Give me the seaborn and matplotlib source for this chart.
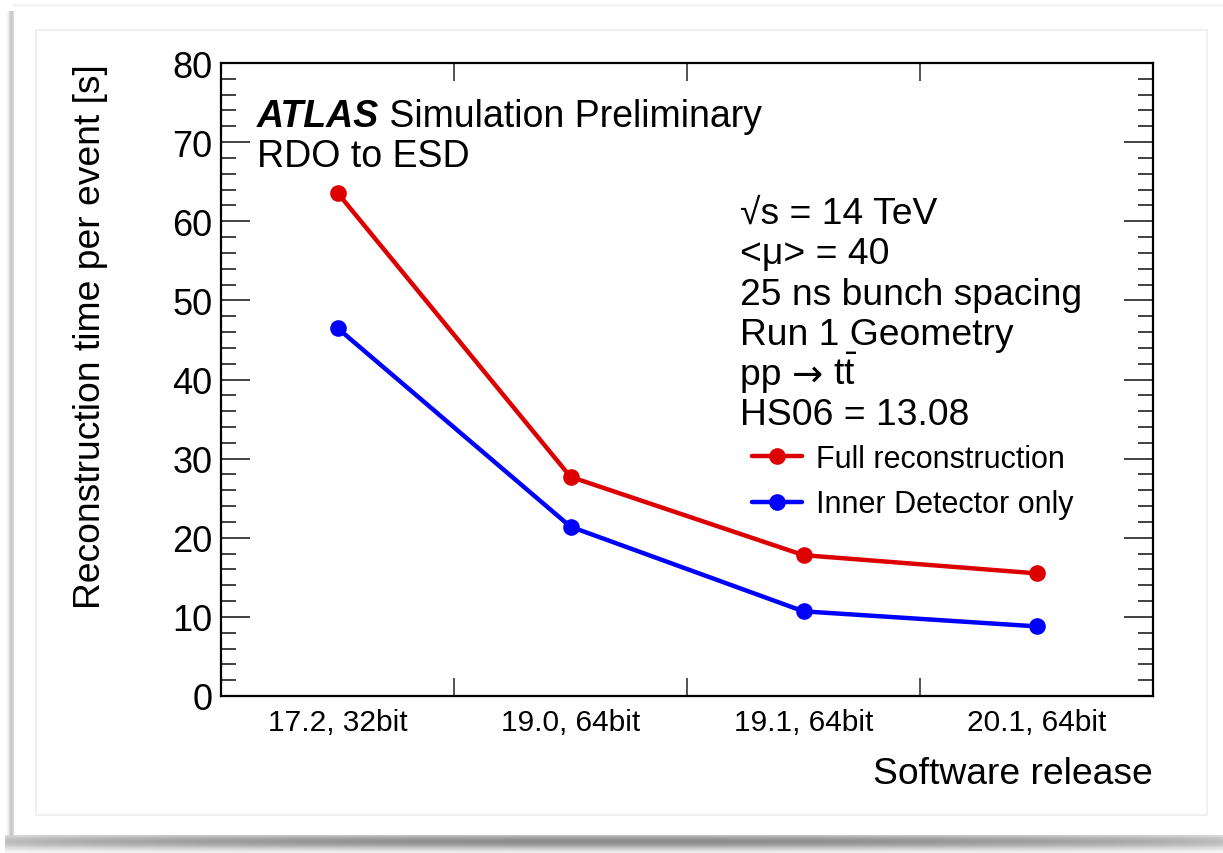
import numpy as np
import pandas as pd
import matplotlib
matplotlib.use("Agg")
import matplotlib.pyplot as plt
import seaborn as sns
from matplotlib.ticker import MultipleLocator, FixedLocator
from matplotlib.patches import Rectangle

# ---------------- data ----------------
releases = ["17.2, 32bit", "19.0, 64bit", "19.1, 64bit", "20.1, 64bit"]
full_reco = [63.6, 27.7, 17.8, 15.5]
inner_det = [46.5, 21.4, 10.7, 8.8]
series_names = ["Full reconstruction", "Inner Detector only"]
series_colors = ["#dd0000", "#0000ff"]
info_lines = ["√s = 14 TeV", "<μ> = 40", "25 ns bunch spacing",
              "Run 1 Geometry", None, "HS06 = 13.08"]
process_parts = ["pp ", "→", r" t$\bar{\mathrm{t}}$"]
y_label = "Reconstruction time per event [s]"
x_label = "Software release"

df = pd.DataFrame({
    "release": releases * 2,
    "time": full_reco + inner_det,
    "series": [series_names[0]] * 4 + [series_names[1]] * 4,
})

sns.set_theme(style="ticks")
plt.rcParams["font.family"] = ["Liberation Sans", "DejaVu Sans"]
plt.rcParams["mathtext.fontset"] = "custom"
plt.rcParams["mathtext.rm"] = "Liberation Sans"
plt.rcParams["mathtext.it"] = "Liberation Sans:italic"
plt.rcParams["mathtext.bf"] = "Liberation Sans:bold"
for k in ["text.color", "axes.labelcolor", "xtick.color", "ytick.color"]:
    plt.rcParams[k] = "black"

W, H = 1223, 854
fig = plt.figure(figsize=(W / 100, H / 100), dpi=100)
fig.patch.set_facecolor("white")

# ---- card background (decoration only) ----
bg = np.ones((H, W))
xs = np.arange(W)
for x in range(3, 14):
    a = np.exp(-((x - 11) / 3.0) ** 2) * 0.22
    bg[12:838, x] = np.minimum(bg[12:838, x], 1 - a)
for y in range(2, 8):
    a = np.exp(-((y - 6) / 2.0) ** 2) * 0.05
    bg[y, 13:W] = np.minimum(bg[y, 13:W], 1 - a)
xprof = 0.55 + 0.45 * np.clip(np.sin(np.pi * (xs - 5) / (W - 5)), 0, 1) ** 0.6
for y in range(836, H):
    yprof = np.exp(-((y - 842) / 8.0) ** 2)
    a = 0.45 * yprof * xprof
    bg[y, 5:] = np.minimum(bg[y, 5:], 1 - a[5:])
bax = fig.add_axes([0, 0, 1, 1], zorder=-5)
bax.imshow(bg, cmap="gray", vmin=0, vmax=1, aspect="auto", interpolation="bilinear")
bax.set_axis_off()
fig.patches.append(Rectangle((36 / W, (H - 816) / H), (1207 - 36) / W, (816 - 31) / H,
                             transform=fig.transFigure, fill=False,
                             edgecolor="#eeeeee", lw=1.2, zorder=0))

L, R, B, T = 221, 1153, 697, 64
ax = fig.add_axes([L / W, (H - B) / H, (R - L) / W, (B - T) / H])
ax.set_facecolor("none")

sns.lineplot(data=df, x="release", y="time", hue="series", hue_order=series_names,
             palette=dict(zip(series_names, series_colors)), marker="o",
             markersize=12, markeredgewidth=0, linewidth=3.2, legend=False, ax=ax,
             sort=False)

ax.set_xlim(-0.5, 3.5)
ax.set_ylim(0, 80)

for s in ax.spines.values():
    s.set_linewidth(1.6)
    s.set_color("black")

ax.set_xticks(range(len(releases)))
ax.set_xticklabels(releases)
ax.xaxis.set_minor_locator(FixedLocator([-0.5, 0.5, 1.5, 2.5, 3.5]))
ax.tick_params(axis="x", which="major", length=0, labelsize=21.5, pad=9)
ax.tick_params(axis="x", which="minor", direction="in", length=13, width=1.2,
               top=True, bottom=True, color="#333333")
ax.yaxis.set_major_locator(MultipleLocator(10))
ax.yaxis.set_minor_locator(MultipleLocator(2))
ax.tick_params(axis="y", which="major", direction="in", length=21, width=1.3,
               left=True, right=True, labelsize=26, pad=6, color="#333333")
ax.tick_params(axis="y", which="minor", direction="in", length=11, width=1.3,
               left=True, right=True, color="#333333")
ax.grid(False)

ax.set_ylabel(y_label, fontsize=26.8, loc="top")
ax.yaxis.set_label_coords(-0.121, 1.0)
ax.set_xlabel(x_label, fontsize=26.8, loc="right", va="top")
ax.xaxis.set_label_coords(1.0, -0.095)

# ATLAS label
t1 = ax.text(0.0386, 0.9005, "ATLAS", transform=ax.transAxes, fontsize=27,
             fontweight="bold", fontstyle="italic", va="baseline", ha="left")
ax.annotate(" Simulation Preliminary", xy=(1, 0), xycoords=t1, fontsize=27,
            va="bottom", ha="left")
ax.text(0.0386, 0.837, "RDO to ESD", transform=ax.transAxes, fontsize=27,
        va="baseline", ha="left")

# info block
x_info = (740 - L) / (R - L)
for i, line in enumerate(info_lines):
    yb = 224 + i * 40.3
    ya = (B - yb) / (B - T)
    if line is not None:
        ax.text(x_info, ya, line, transform=ax.transAxes,
                fontsize=26.8, va="baseline", ha="left")
    else:
        ta = ax.text(x_info, ya, process_parts[0], transform=ax.transAxes,
                     fontsize=26.8, va="baseline", ha="left")
        tb = ax.annotate(process_parts[1], xy=(1, ya), xycoords=(ta, ax.transAxes),
                         fontsize=26.8, va="baseline", ha="left",
                         family="DejaVu Sans")
        ax.annotate(process_parts[2], xy=(1, ya), xycoords=(tb, ax.transAxes),
                    fontsize=26.8, va="baseline", ha="left")

handles = ax.get_lines()[:2]
ax.legend(handles, series_names, loc="upper left",
          bbox_to_anchor=((752 - L) / (R - L), (B - 445) / (B - T)),
          frameon=False, fontsize=22, handlelength=1.65, handletextpad=0.45,
          labelspacing=0.5, borderpad=0, borderaxespad=0)

fig.savefig("out.png", dpi=100, facecolor="white")
